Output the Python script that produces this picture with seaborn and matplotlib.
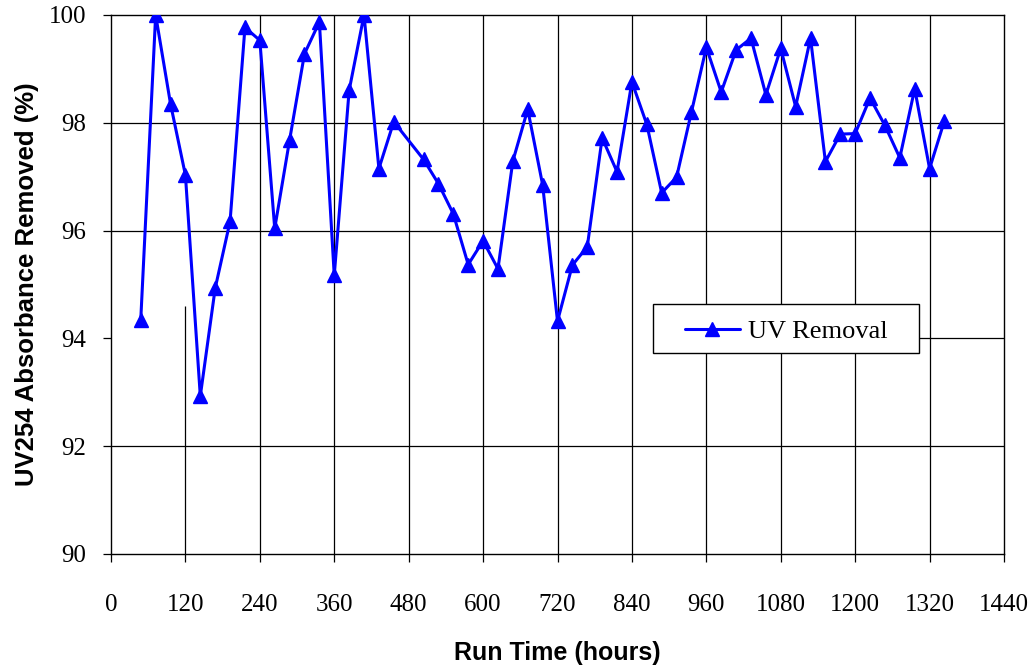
import numpy as np
import pandas as pd
import matplotlib
matplotlib.use("Agg")
import matplotlib.pyplot as plt
from matplotlib.patches import Rectangle
import seaborn as sns

# ---- data ----
run_time_hours = [48, 72, 96, 120, 144, 168, 192, 216, 240, 264, 288, 312, 336, 360, 384, 408, 432, 456,
                  504, 528, 552, 576, 600, 624, 648, 672, 696, 720, 744, 768, 792, 816, 840, 864, 888, 912,
                  936, 960, 984, 1008, 1032, 1056, 1080, 1104, 1128, 1152, 1176, 1200, 1224, 1248, 1272,
                  1296, 1320, 1344]
uv_removal = [94.35, 100.0, 98.35, 97.03, 92.93, 94.93, 96.17, 99.77, 99.53, 96.04, 97.68, 99.28, 99.87,
              95.17, 98.60, 100.0, 97.15, 98.02,
              97.32, 96.87, 96.31, 95.37, 95.81, 95.29, 97.29, 98.25, 96.85, 94.32, 95.36, 95.70, 97.72,
              97.09, 98.76, 97.97, 96.70, 96.99, 98.20, 99.40, 98.57, 99.35, 99.57, 98.52, 99.38, 98.30,
              99.57, 97.28, 97.79, 97.80, 98.46, 97.95, 97.35, 98.63, 97.15, 98.04]
x_ticks = [0, 120, 240, 360, 480, 600, 720, 840, 960, 1080, 1200, 1320, 1440]
y_ticks = [90, 92, 94, 96, 98, 100]
series_name = "UV Removal"

df = pd.DataFrame({"Run Time (hours)": run_time_hours, "UV": uv_removal})

sns.set_style("white")
plt.rcParams["font.family"] = ["Liberation Serif", "DejaVu Serif"]
plt.rcParams["text.color"] = "black"
plt.rcParams["axes.labelcolor"] = "black"
plt.rcParams["xtick.color"] = "black"
plt.rcParams["ytick.color"] = "black"

fig = plt.figure(figsize=(10.34, 6.69), dpi=100)
ax = fig.add_axes([111 / 1034, 1 - 554 / 669, (1004 - 111) / 1034, (554 - 15) / 669])

# grid lines (as in the reference: some partial)
grid_kw = dict(color="black", linewidth=0.9, zorder=1)
for xv in x_ticks[2:-1]:
    ax.axvline(xv, **grid_kw)
ax.vlines(120, 90, 94.61, **grid_kw)
for yv in [92, 96, 98]:
    ax.axhline(yv, **grid_kw)
ax.hlines(94, 1303, 1440, **grid_kw)

sns.lineplot(data=df, x="Run Time (hours)", y="UV", ax=ax, color="#0000ff", linewidth=2.2,
             marker="^", markersize=10.5, markeredgecolor="#0000ff", markeredgewidth=1,
             label=series_name, zorder=3)

ax.set_xlim(0, 1440)
ax.set_ylim(90, 100)
ax.set_xticks(x_ticks)
ax.set_yticks(y_ticks)
ax.set_xticklabels([str(v) for v in x_ticks], fontsize=18)
ax.set_yticklabels([str(v) for v in y_ticks], fontsize=18)
ax.tick_params(axis="x", direction="out", length=6, width=0.9, pad=23, colors="black")
ax.tick_params(axis="y", direction="out", length=6, width=0.9, pad=12, colors="black")
ax.tick_params(bottom=True, left=True)

for sp in ax.spines.values():
    sp.set_visible(True)
    sp.set_color("black")
    sp.set_linewidth(1.0)

ax.set_xlabel("Run Time (hours)", fontsize=18, fontweight="bold", color="black",
              family=["Liberation Sans", "DejaVu Sans"], labelpad=18)
ax.set_ylabel("UV254 Absorbance Removed (%)", fontsize=18.5, fontweight="bold", color="black",
              family=["Liberation Sans", "DejaVu Sans"], labelpad=7)

# legend box (white, black edge) and its contents centred inside it
box_x0, box_y0, box_w, box_h = 0.6066, 0.372, 0.2984, 0.091
ax.add_patch(Rectangle((box_x0, box_y0), box_w, box_h, transform=ax.transAxes,
                       facecolor="white", edgecolor="black", linewidth=1.0, zorder=4))
leg = ax.legend(loc="center", bbox_to_anchor=(box_x0 + box_w / 2, box_y0 + box_h / 2 - 0.004),
                borderaxespad=0, frameon=False,
                prop={"family": ["Liberation Serif"], "size": 19}, handlelength=2.08,
                borderpad=0.0, handletextpad=0.3)
leg.set_zorder(5)

fig.savefig("out.png", dpi=100, facecolor="white")
